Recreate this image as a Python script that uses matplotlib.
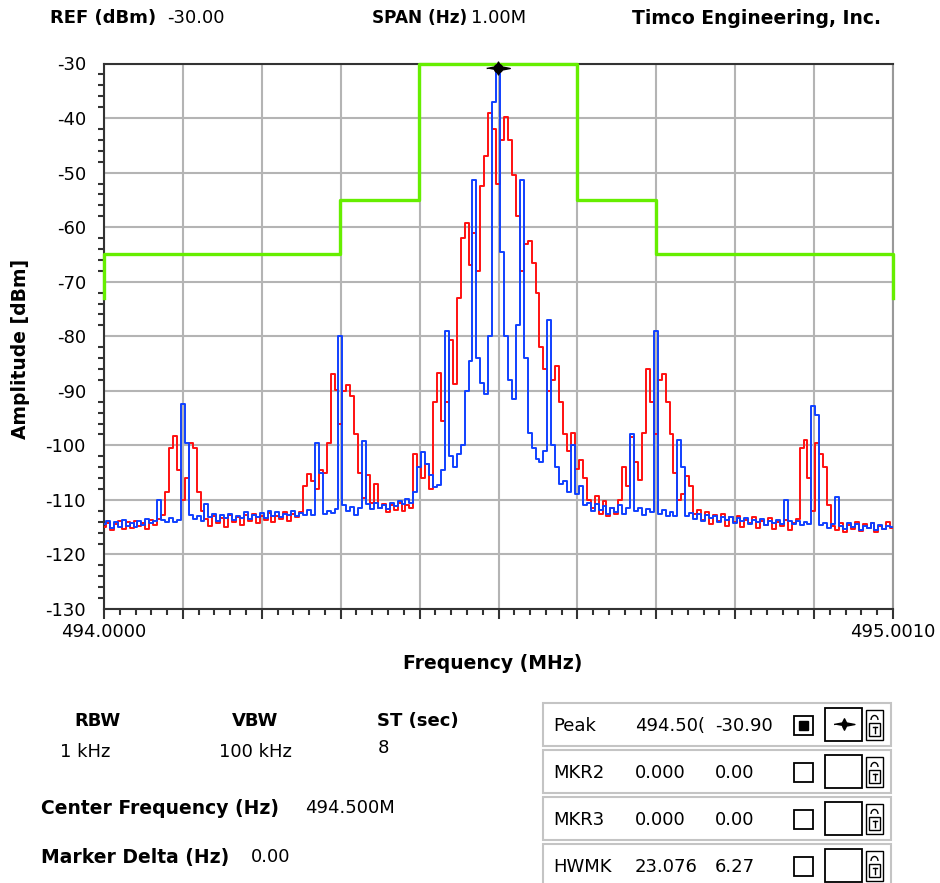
import numpy as np
import matplotlib.pyplot as plt
from matplotlib.patches import Rectangle, Arc
from matplotlib.ticker import MultipleLocator, FixedLocator, NullFormatter

plt.rcParams['font.family'] = ['DejaVu Sans']
plt.rcParams['axes.unicode_minus'] = False

# spectrum traces, one reading every 5 kHz from 494.0000 MHz
f_start = 494.0
f_step = 0.005
f_stop = 495.001

red_db = [
    -115.0, -114.2, -115.6, -114.5, -113.8, -115.3, -114.0, -115.1, -113.9, -114.8,
    -114.3, -115.4, -113.7, -114.6, -113.5, -112.8, -108.6, -100.5, -98.3, -104.5,
    -110.0, -106.0, -99.5, -100.5, -108.6, -112.0, -113.5, -114.8, -112.9, -114.2,
    -113.3, -114.9, -112.7, -114.0, -113.1, -114.6, -112.8, -113.9, -112.5, -114.3,
    -113.0, -113.7, -112.4, -114.1, -112.9, -113.5, -112.2, -113.8, -112.6, -113.2,
    -112.3, -107.5, -105.3, -106.5, -108.0, -104.5, -105.0, -99.5, -87.0, -89.8,
    -96.0, -90.0, -89.0, -91.0, -98.0, -105.0, -109.7, -105.5, -110.5, -107.0,
    -111.5, -110.8, -112.2, -111.0, -111.8, -110.6, -112.0, -110.9, -111.5, -101.6,
    -104.0, -106.0, -103.5, -108.0, -92.0, -86.7, -95.5, -92.0, -80.6, -88.7,
    -73.0, -62.0, -59.2, -67.0, -61.0, -68.0, -52.5, -47.0, -39.0, -42.0,
    -52.0, -44.0, -39.8, -44.0, -50.5, -58.0, -68.0, -63.0, -62.5, -66.5,
    -72.0, -82.0, -86.0, -90.0, -88.0, -85.5, -92.0, -98.0, -101.0, -97.7,
    -104.4, -102.6, -106.0, -110.0, -111.5, -109.3, -112.5, -110.2, -113.0, -111.4,
    -112.6, -110.0, -104.0, -107.5, -98.5, -103.0, -106.3, -97.7, -86.0, -92.0,
    -98.0, -88.0, -87.0, -92.0, -98.0, -105.0, -110.0, -109.0, -105.6, -107.5,
    -112.5, -111.8, -113.6, -112.2, -114.5, -112.8, -113.9, -112.5, -114.8, -113.2,
    -114.0, -112.9, -115.0, -113.6, -114.3, -113.1, -115.2, -113.8, -114.6, -113.4,
    -115.4, -114.0, -114.8, -113.7, -115.6, -114.2, -113.5, -100.5, -99.0, -106.0,
    -112.0, -99.5, -101.5, -104.0, -111.0, -114.8, -115.5, -114.2, -115.8, -114.6,
    -115.3, -114.0, -115.7, -114.5, -115.1, -114.3, -115.9, -114.7, -115.4, -114.1,
    -115.2,
]

blue_db = [
    -114.5, -113.8, -115.2, -114.0, -114.9, -113.6, -114.7, -114.2, -115.0, -113.9,
    -114.6, -113.5, -114.3, -113.8, -110.0, -113.7, -114.1, -113.4, -114.0, -113.6,
    -92.5, -99.5, -112.8, -113.5, -112.9, -113.8, -110.8, -113.2, -112.6, -113.9,
    -112.8, -113.4, -112.5, -113.6, -112.9, -113.3, -112.2, -113.5, -112.7, -113.1,
    -112.4, -113.4, -112.0, -112.9, -112.3, -113.2, -112.5, -112.8, -112.1, -112.9,
    -112.4, -112.7, -111.9, -112.8, -99.5, -105.0, -112.5, -112.0, -112.4, -111.6,
    -80.0, -111.0, -112.0, -111.3, -112.8, -111.5, -99.2, -110.8, -111.7, -110.6,
    -111.4, -110.9, -111.6, -110.5, -111.2, -110.2, -110.8, -109.8, -110.6, -108.5,
    -104.0, -101.3, -103.5, -105.5, -107.7, -107.2, -104.5, -79.0, -102.0, -104.0,
    -101.5, -100.0, -90.0, -84.5, -51.3, -84.0, -88.5, -90.5, -80.0, -37.0,
    -30.9, -64.5, -80.0, -88.0, -91.5, -78.0, -51.3, -84.0, -97.7, -100.5,
    -102.5, -103.0, -101.0, -77.0, -100.0, -104.0, -107.0, -106.5, -108.5, -100.0,
    -109.0, -107.5, -111.0, -110.5, -112.0, -110.8, -111.9, -111.2, -112.6, -111.5,
    -112.2, -111.0, -112.5, -111.4, -98.0, -112.0, -111.4, -112.8, -111.6, -112.3,
    -79.1, -112.5, -111.8, -113.0, -112.2, -112.9, -99.0, -104.0, -113.0, -112.4,
    -113.5, -112.6, -113.8, -112.8, -113.4, -112.9, -114.0, -113.1, -113.7, -113.2,
    -114.2, -113.4, -113.9, -113.3, -114.4, -113.6, -114.1, -113.5, -114.6, -113.8,
    -114.3, -113.7, -114.5, -110.0, -113.9, -114.4, -113.8, -114.6, -114.0, -114.5,
    -92.8, -94.5, -114.6, -114.2, -115.2, -114.5, -109.4, -114.8, -115.4, -114.3,
    -115.0, -114.4, -115.6, -114.7, -115.1, -114.2, -115.5, -114.6, -115.3, -114.8,
    -115.0,
]

# emission mask (green)
mask_f = [494.0, 494.0, 494.3, 494.3, 494.4, 494.4, 494.6, 494.6, 494.7, 494.7, 495.001, 495.001]
mask_db = [-73, -65, -65, -55, -55, -30, -30, -55, -55, -65, -65, -73]

peak_f = 494.5
peak_db = -30.9

marker_rows = [
    ("Peak", "494.50(", "-30.90"),
    ("MKR2", "0.000", "0.00"),
    ("MKR3", "0.000", "0.00"),
    ("HWMK", "23.076", "6.27"),
]

freq = f_start + f_step * np.arange(len(blue_db))

fig = plt.figure(figsize=(9.4, 8.83), dpi=100)

# overlay in pixel coordinates for the panel text
ov = fig.add_axes([0, 0, 1, 1])
ov.set_xlim(0, 940)
ov.set_ylim(883, 0)
ov.axis('off')

ax = fig.add_axes([104 / 940, 1 - 609 / 883, 789 / 940, 545.5 / 883])

ax.plot(freq, red_db, color='#ff1010', lw=1.4, drawstyle='steps-mid', zorder=3)
ax.plot(freq, blue_db, color='#1040ff', lw=1.4, drawstyle='steps-mid', zorder=4)
ax.plot(mask_f, mask_db, color='#66ee00', lw=2.4, zorder=5, clip_on=False)

star = [(-1, 0), (-0.2, 0.15), (0, 0.55), (0.2, 0.15), (1, 0), (0.2, -0.15), (0, -0.55), (-0.2, -0.15)]
ax.plot([peak_f], [peak_db], marker=star, ms=17, color='black', zorder=6, clip_on=False)
ax.plot([peak_f], [peak_db], marker='o', ms=6, color='black', zorder=6, clip_on=False)

ax.set_xlim(f_start, f_stop)
ax.set_ylim(-130, -30)

xmaj = np.linspace(f_start, f_stop, 11)
ax.xaxis.set_major_locator(FixedLocator(xmaj))
ax.xaxis.set_minor_locator(FixedLocator(np.linspace(f_start, f_stop, 51)))
ax.set_xticklabels(['494.0000'] + [''] * 9 + ['495.0010'])
ax.yaxis.set_major_locator(MultipleLocator(10))
ax.yaxis.set_minor_locator(MultipleLocator(2))
ax.yaxis.set_minor_formatter(NullFormatter())

ax.grid(True, which='major', color='#b4b4b4', lw=1.5)
ax.tick_params(axis='x', which='major', direction='out', length=7, width=1.5, pad=3,
               labelsize=13, color='#333333')
ax.tick_params(axis='x', which='minor', direction='out', length=4, width=1.5, color='#333333')
ax.tick_params(axis='y', which='major', length=0, pad=13, labelsize=13)
ax.tick_params(axis='y', which='minor', direction='out', length=4, width=1.5, color='#333333')

for s in ['left', 'bottom', 'top']:
    ax.spines[s].set_color('#333333')
    ax.spines[s].set_linewidth(1.5)
ax.spines['right'].set_color('#999999')
ax.spines['right'].set_linewidth(1.5)

ax.set_xlabel('Frequency (MHz)', fontsize=13.5, fontweight='bold')
ax.xaxis.set_label_coords(0.493, -0.083)
ax.set_ylabel('Amplitude [dBm]', fontsize=13.5, fontweight='bold')
ax.yaxis.set_label_coords(-0.094, 0.477)

B = dict(fontsize=13, fontweight='bold', va='center')
N = dict(fontsize=13, va='center')

# header
ov.text(50, 18, 'REF (dBm)', **B)
ov.text(167, 18, '-30.00', **N)
ov.text(372, 18, 'SPAN (Hz)', fontsize=12.2, fontweight='bold', va='center')
ov.text(471, 18, '1.00M', **N)
ov.text(632, 18, 'Timco Engineering, Inc.', fontsize=13.5, fontweight='bold', va='center')

# settings block
ov.text(97, 721, 'RBW', ha='center', **B)
ov.text(85, 752, '1 kHz', ha='center', **N)
ov.text(255, 721, 'VBW', ha='center', **B)
ov.text(255, 752, '100 kHz', ha='center', **N)
ov.text(377, 721, 'ST (sec)', **B)
ov.text(378, 748, '8', **N)
ov.text(41, 808, 'Center Frequency (Hz)', fontsize=13.5, fontweight='bold', va='center')
ov.text(305, 808, '494.500M', **N)
ov.text(41, 857, 'Marker Delta (Hz)', fontsize=13.5, fontweight='bold', va='center')
ov.text(251, 857, '0.00', **N)

# marker table
for k, (name, v1, v2) in enumerate(marker_rows):
    top = 703 + k * 47
    ov.add_patch(Rectangle((543, top), 348, 43, fc='white', ec='#c4c4c4', lw=1.5))
    cy = top + 23
    ov.text(553, cy, name, **N)
    ov.text(635, cy, v1, **N)
    ov.text(715, cy, v2, **N)
    ov.add_patch(Rectangle((794, cy - 10), 19, 19, fc='white', ec='black', lw=1.3))
    if k == 0:
        ov.add_patch(Rectangle((799, cy - 5), 9, 9, fc='black', ec='black'))
    ov.add_patch(Rectangle((825, top + 5), 37, 33, fc='white', ec='black', lw=1.3))
    if k == 0:
        ov.plot([843.5], [top + 21], marker=star, ms=15, color='black')
    ov.add_patch(Rectangle((866, top + 7), 17, 30, fc='white', ec='black', lw=1.0))
    ov.add_patch(Rectangle((869, top + 20), 11, 13, fc='white', ec='black', lw=1.0))
    ov.add_patch(Arc((874.5, top + 17), 7, 9, theta1=180, theta2=360, ec='black', lw=1.0))
    ov.plot([874.5, 874.5], [top + 24, top + 30], color='black', lw=1.0)
    ov.plot([872.5, 876.5], [top + 24, top + 24], color='black', lw=1.0)

plt.savefig('out.png', dpi=100)
